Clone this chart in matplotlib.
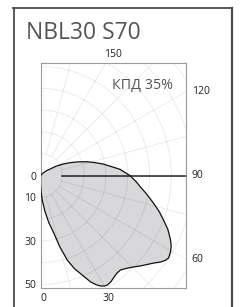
import numpy as np
import matplotlib
matplotlib.use("Agg")
import matplotlib.pyplot as plt
from matplotlib.lines import Line2D

# ── Data (polar diagram, angle from nadir, clockwise to the right) ──────────
title = "NBL30 S70"
efficiency_label = "КПД 35%"
angles_deg = [140, 135, 128.7, 120.7, 117, 113.6, 110, 106.7, 103.5, 100.4, 97,
              94.5, 90, 86.5, 83.4, 80, 76.3, 73, 70.1, 67, 63.6, 61.5, 59.5,
              57.2, 55.7, 54.2, 52.2, 50, 47.9, 45.5, 43, 40.2, 38, 35.5, 33.5,
              31.5, 30, 28.5, 27, 25.2, 22.7, 20, 17.5, 15, 13, 10, 7, 4, 2, 0,
              -10, -45, -90, -140]
intensity = [0, 1.5, 3.5, 8.5, 11.5, 14.7, 18.3, 22.0, 25.5, 29.2, 33.0,
             36.5, 41.0, 43.8, 46.2, 49.5, 53.3, 57.0, 60.0, 63.5, 66.6, 68.2, 69.2,
             69.9, 69.2, 67.9, 65.6, 63.6, 61.9, 59.9, 58.2, 56.8, 56.9, 57.7, 58.5,
             58.9, 58.6, 57.7, 56.3, 54.0, 49.5, 45.5, 40.6, 33.5, 27.1, 22.0, 16.5,
             11.3, 7.5, 4.4, 3.0, 2.0, 1.2, 0]
left_ticks = [0, 10, 30, 50]
bottom_angle_ticks = [0, 30]
right_angle_ticks = [120, 90, 60]
top_angle_ticks = [150]

# ── Figure ──────────────────────────────────────────────────────────────────
W, H = 241, 307
fig = plt.figure(figsize=(W / 100, H / 100), dpi=100)
plt.rcParams["font.family"] = ["Open Sans", "DejaVu Sans"]

# outer frame (left, top, right)
frame_c = "#4a4a4a"
fig.add_artist(Line2D([13.5 / W, 13.5 / W], [0, 1 - 8 / H], transform=fig.transFigure,
                      color=frame_c, lw=1.3))
fig.add_artist(Line2D([13 / W, 232 / W], [1 - 8 / H, 1 - 8 / H], transform=fig.transFigure,
                      color=frame_c, lw=1.3))
fig.add_artist(Line2D([231.5 / W, 231.5 / W], [0, 1 - 8 / H], transform=fig.transFigure,
                      color=frame_c, lw=1.6))

fig.text(26 / W, 1 - 33 / H, title, fontsize=16.5, color="#555555", va="center", ha="left")

ax = fig.add_axes([40.5 / W, 19.3 / H, 145.2 / W, 224.4 / H])
xmax, ymax = 66.6, 51.5
ax.set_xlim(0, xmax)
ax.set_ylim(-ymax, ymax)

# curve
th = np.radians(angles_deg)
r = np.array(intensity)
x = r * np.sin(th)
y = -r * np.cos(th)
ax.fill(x, y, color="#d8d8da", zorder=1, lw=0)

# grid (semi-transparent so it shows darker over the fill)
t = np.linspace(0, 2 * np.pi, 400)
for rr in range(10, 100, 10):
    ax.plot(rr * np.cos(t), rr * np.sin(t), color="black", alpha=0.09, lw=0.6, zorder=2)
for a in range(0, 181, 15):
    ar = np.radians(a)
    ax.plot([10 * np.sin(ar), 120 * np.sin(ar)], [-10 * np.cos(ar), -120 * np.cos(ar)],
            color="black", alpha=0.09, lw=0.6, zorder=2)

ax.plot(x, y, color="#111111", lw=0.9, zorder=4, solid_joinstyle="round")

# 90° line
ax.plot([10, xmax], [0, 0], color="#222222", lw=1.1, zorder=5)

for s in ax.spines.values():
    s.set_color("#9a9a9a")
    s.set_linewidth(0.8)

ax.set_yticks([-v for v in left_ticks])
ax.set_yticklabels([str(v) for v in left_ticks])
ax.set_xticks([])
ax.tick_params(length=0, labelsize=7.5, pad=3, colors="#222222")

lab = dict(fontsize=7.5, color="#222222")
for a in bottom_angle_ticks:
    xx = ymax * np.tan(np.radians(a))
    ax.text(max(xx - 1.3, 0), -ymax - 2.4, str(a), va="top", ha="left", **lab)
for a in right_angle_ticks:
    yy = xmax / np.tan(np.radians(a)) if a != 90 else 0
    ax.text(xmax + 2.7, -yy, str(a), va="center", ha="left", **lab)
for a in top_angle_ticks:
    xx = ymax * np.tan(np.radians(180 - a))
    ax.text(xx - 0.8, ymax + 1.6, str(a), va="bottom", ha="left", **lab)

ax.text(32.8, 41.3, efficiency_label, fontsize=10.3, color="#555555", va="center", ha="left")

fig.savefig("out.png", dpi=100)
